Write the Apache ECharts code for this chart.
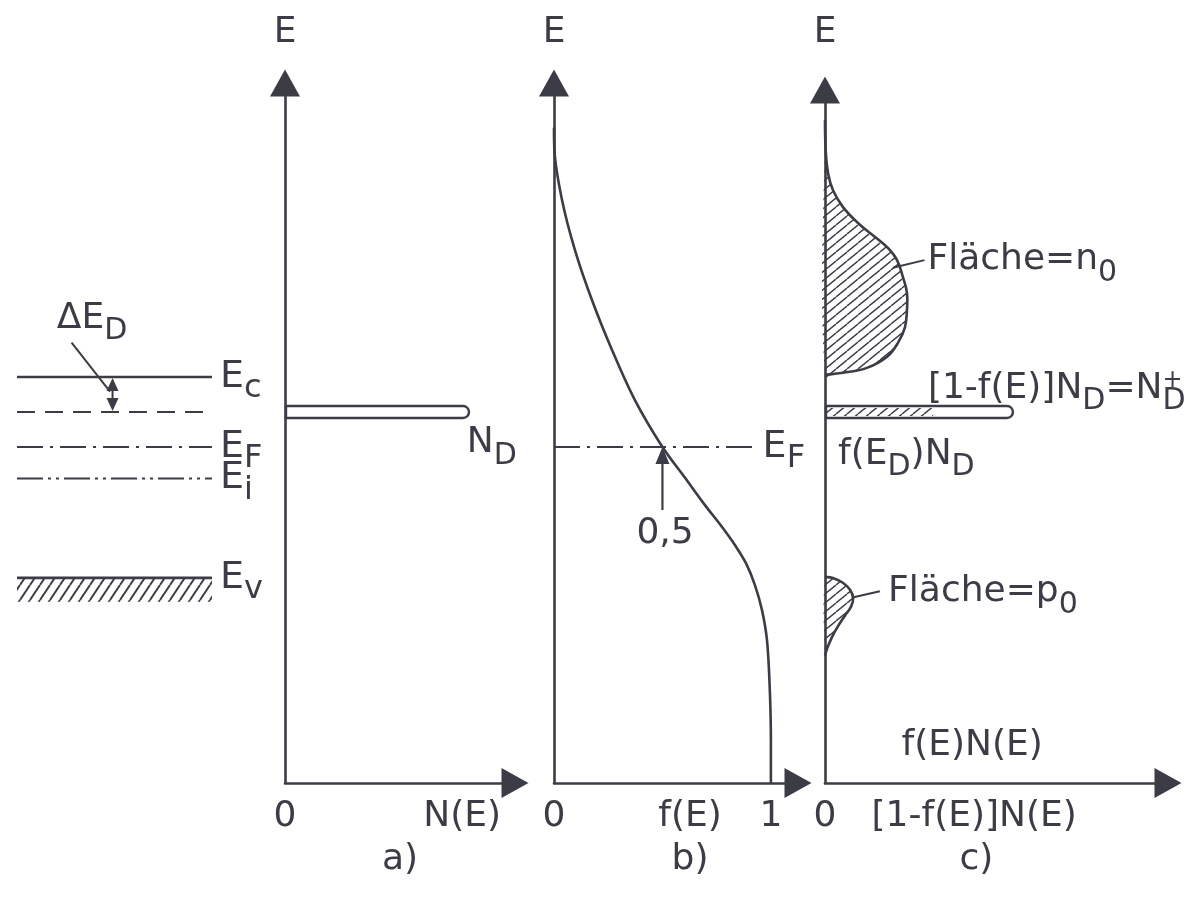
<!DOCTYPE html>
<html>
<head>
<meta charset="utf-8">
<script src="https://cdn.jsdelivr.net/npm/echarts@6/dist/echarts.min.js"></script>
<style>
  html, body { margin: 0; padding: 0; background: #ffffff; }
  #chart { width: 1194px; height: 900px; }
</style>
</head>
<body>
<div id="chart"></div>
<script>
// ---------------------------------------------------------------
// Data (arbitrary energy units, 0 at the foot of every E axis)
// ---------------------------------------------------------------
const E_C = 58;     // conduction band edge
const E_D = 53;     // donor level
const E_F = 48;     // Fermi level
const E_I = 43.5;   // intrinsic level
const E_V = 29.3;   // valence band edge

// a) donor density of states
const donorDensity = 0.8;

// b) Fermi-Dirac occupation probability f(E)
const fermiF = [0, 0.002, 0.037, 0.097, 0.175, 0.267, 0.373, 0.5, 0.604, 0.696, 0.774, 0.834, 0.885, 0.926, 0.959, 0.982, 0.995, 1, 1];
const fermiE = [93.6, 90.4, 83.3, 76.1, 69, 61.9, 54.7, 48, 43.6, 39.7, 36.6, 34, 31.4, 28.3, 24.7, 20.4, 13.3, 6.1, 0];
const halfOccupation = 0.5;

// c) occupied states in the conduction band, f(E)N(E)
const n0Values = [0, 0.02, 0.09, 0.23, 0.52, 0.96, 1.46, 1.84, 2.1, 2.27, 2.39, 2.39, 2.33, 2.13, 1.81, 1.22, 0.52, 0];
const n0Energy = [94.7, 90.4, 87.1, 84.7, 82.3, 80, 78, 76.4, 74.7, 72.3, 70, 67.6, 65.1, 62.9, 60.9, 59.3, 58.6, 58.3];
// c) empty states in the valence band, [1-f(E)]N(E)
const p0Values = [0, 0.23, 0.52, 0.73, 0.82, 0.76, 0.58, 0.38, 0.2, 0.07, 0];
const p0Energy = [29.4, 29.3, 28.6, 27.6, 26.4, 25.2, 23.9, 22.4, 20.8, 19.3, 18.2];
// c) donor states: total and still occupied part
const donorTotalC = 5.48;
const donorOccupiedC = 3.15;

// axis label values and their texts
const ticksA = [0, 0.77];
const textsA = ['0', 'N(E)'];
const ticksB = [0, 0.627, 1];
const textsB = ['0', 'f(E)', '1'];
const ticksC = [0, 4.35];
const textsC = ['0', '[1-f(E)]N(E)'];
const panelNames = ['a)', 'b)', 'c)'];

// ---------------------------------------------------------------
// Styling helpers
// ---------------------------------------------------------------
const INK = '#3c3c46';
const FONT = '"DejaVu Sans", "Liberation Sans", sans-serif';

function hatchPattern(w, h, lw) {
  const c = document.createElement('canvas');
  c.width = w; c.height = h;
  const g = c.getContext('2d');
  g.strokeStyle = INK; g.lineWidth = lw;
  g.beginPath();
  for (let k = -1; k <= 1; k++) { g.moveTo(k * w, h); g.lineTo((k + 1) * w, 0); }
  g.stroke();
  return { image: c, repeat: 'repeat' };
}
const hatchFine = hatchPattern(11, 9, 1.4);
const hatchSteep = hatchPattern(10, 15, 2);

// rich text for labels (ECharts label style)
const levelRich = {
  m: { fontSize: 38, fontFamily: FONT, color: INK, align: 'left' },
  s: { fontSize: 32, fontFamily: FONT, color: INK, align: 'left', padding: [24, 0, 0, 0] }
};
// rich text for free notes (zrender text style)
const noteRich = {
  m: { fontSize: 36, fontFamily: FONT, fill: INK, align: 'left' },
  s: { fontSize: 30, fontFamily: FONT, fill: INK, align: 'left', padding: [26, 0, 0, 0] },
  p: { fontSize: 24, fontFamily: FONT, fill: INK, align: 'left', width: 0, padding: [0, 0, 14, 0] }
};

const axisLine = {
  show: true, onZero: false,
  symbol: ['none', 'triangle'], symbolSize: [30, 27],
  lineStyle: { color: INK, width: 2.6 }
};

function energyAxis(gridIndex, max, show, gap) {
  return {
    type: 'value', gridIndex, min: 0, max, show,
    axisLine, axisTick: { show: false }, axisLabel: { show: false }, splitLine: { show: false },
    name: 'E', nameLocation: 'end', nameGap: gap,
    nameTextStyle: { fontSize: 36, fontFamily: FONT, color: INK }
  };
}

function nearestText(ticks, texts, v) {
  let best = 0;
  ticks.forEach((t, i) => { if (Math.abs(t - v) < Math.abs(ticks[best] - v)) best = i; });
  return texts[best];
}

function quantityAxis(gridIndex, max, ticks, texts, name, namePad) {
  return {
    type: 'value', gridIndex, min: 0, max,
    axisLine, axisTick: { show: false }, splitLine: { show: false },
    axisLabel: {
      show: true, customValues: ticks, formatter: v => nearestText(ticks, texts, v),
      fontSize: 36, fontFamily: FONT, color: INK, margin: 16
    },
    name, nameLocation: 'middle', nameGap: 59,
    nameTextStyle: { fontSize: 36, fontFamily: FONT, color: INK, padding: namePad }
  };
}

function levelSeries(gridIndex, energy, dash, sub, x1, width) {
  return {
    type: 'line', xAxisIndex: gridIndex, yAxisIndex: gridIndex,
    data: [[0, energy], [x1, energy]],
    symbol: 'none', clip: false, silent: true, z: 4,
    lineStyle: { color: INK, width: width || 2.4, type: dash },
    endLabel: sub
      ? { show: true, formatter: '{m|E}{s|' + sub + '}', distance: 8, color: INK, rich: levelRich }
      : { show: false }
  };
}

function customLayer(gridIndex, draw, z) {
  return {
    type: 'custom', coordinateSystem: 'cartesian2d',
    xAxisIndex: gridIndex, yAxisIndex: gridIndex,
    data: [[0, 0]], clip: false, silent: true, z: z || 3,
    renderItem: (params, api) => ({ type: 'group', children: draw(api) })
  };
}

function note(api, x, y, text, align) {
  const p = api.coord([x, y]);
  return {
    type: 'text', x: p[0], y: p[1],
    style: { text, rich: noteRich, fill: INK, fontSize: 36, fontFamily: FONT, align: align || 'left', verticalAlign: 'middle' }
  };
}

function seg(api, a, b, w) {
  const p = api.coord(a), q = api.coord(b);
  return { type: 'line', shape: { x1: p[0], y1: p[1], x2: q[0], y2: q[1] }, style: { stroke: INK, lineWidth: w || 2 } };
}

function blob(api, xs, ys) {
  const pts = xs.map((v, i) => api.coord([v, ys[i]]));
  return [
    { type: 'polygon', shape: { points: pts, smooth: 0.4 }, style: { fill: hatchFine } },
    { type: 'polyline', shape: { points: pts, smooth: 0.4 }, style: { stroke: INK, lineWidth: 2.6, fill: null } }
  ];
}

// ---------------------------------------------------------------
// Chart
// ---------------------------------------------------------------
const chart = echarts.init(document.getElementById('chart'), null, { renderer: 'canvas' });

const option = {
  animation: false,
  backgroundColor: '#ffffff',
  grid: [
    { left: 17, top: 83, width: 195, height: 700 },   // band diagram
    { left: 285, top: 83, width: 230, height: 700 },  // a)
    { left: 554, top: 83, width: 244, height: 700 },  // b)
    { left: 825, top: 90, width: 343, height: 693 }   // c)
  ],
  xAxis: [
    { type: 'value', gridIndex: 0, min: 0, max: 1, show: false },
    quantityAxis(1, 1, ticksA, textsA, panelNames[0], [0, 0, 0, 0]),
    quantityAxis(2, 1.125, ticksB, textsB, panelNames[1], [0, 0, 0, 28]),
    quantityAxis(3, 10, ticksC, textsC, panelNames[2], [0, 40, 0, 0])
  ],
  yAxis: [
    energyAxis(0, 100, false, 30),
    energyAxis(1, 100, true, 32),
    energyAxis(2, 100, true, 32),
    energyAxis(3, 99, true, 39)
  ],
  series: [
    // band diagram: energy levels
    levelSeries(0, E_C, 'solid', 'c', 1, 2.6),
    levelSeries(0, E_D, [18, 10], null, 1, 2.2),
    levelSeries(0, E_F, [26, 7, 3, 7], 'F', 1, 2.2),
    levelSeries(0, E_I, [26, 5, 3, 5, 3, 5], 'i', 1, 2.2),
    levelSeries(0, E_V, 'solid', 'v', 1, 2.6),
    // valence band hatching
    customLayer(0, api => {
      const a = api.coord([0, E_V]), b = api.coord([1, E_V - 3.4]);
      return [{ type: 'rect', shape: { x: a[0], y: a[1] + 1, width: b[0] - a[0], height: b[1] - a[1] - 1 }, style: { fill: hatchSteep } }];
    }),
    // donor ionisation energy ΔE_D
    customLayer(0, api => {
      const top = api.coord([0.49, E_C]), bot = api.coord([0.49, E_D]);
      return [
        note(api, 0.385, 66.4, '{m|ΔE}{s|D}', 'center'),
        seg(api, [0.28, 62.9], [0.477, 55.9], 2),
        { type: 'polygon', shape: { points: [[top[0], top[1] + 1], [top[0] - 6, top[1] + 14], [top[0] + 6, top[1] + 14]] }, style: { fill: INK } },
        { type: 'polygon', shape: { points: [[bot[0], bot[1] - 1], [bot[0] - 6, bot[1] - 14], [bot[0] + 6, bot[1] - 14]] }, style: { fill: INK } },
        { type: 'line', shape: { x1: top[0], y1: top[1] + 12, x2: bot[0], y2: bot[1] - 12 }, style: { stroke: INK, lineWidth: 2 } }
      ];
    }),

    // a) donor states N_D
    customLayer(1, api => {
      const a = api.coord([0, E_D]), b = api.coord([donorDensity, E_D]);
      return [
        { type: 'rect', shape: { x: a[0] + 1, y: a[1] - 6, width: b[0] - a[0] - 1, height: 12, r: [0, 6, 6, 0] }, style: { fill: '#ffffff', stroke: INK, lineWidth: 2.4 } },
        note(api, donorDensity - 0.01, 48.6, '{m|N}{s|D}', 'left')
      ];
    }),

    // b) Fermi function and Fermi level
    {
      type: 'line', xAxisIndex: 2, yAxisIndex: 2,
      data: fermiF.map((f, i) => [f, fermiE[i]]),
      smooth: 0.35, symbol: 'none', clip: false, silent: true, z: 4,
      lineStyle: { color: INK, width: 2.6 }
    },
    levelSeries(2, E_F, [26, 7, 3, 7], 'F', 0.925, 2.2),
    customLayer(2, api => {
      const tip = api.coord([halfOccupation, E_F]), tail = api.coord([halfOccupation, 39]);
      return [
        { type: 'line', shape: { x1: tail[0], y1: tail[1], x2: tip[0], y2: tip[1] + 10 }, style: { stroke: INK, lineWidth: 2.2 } },
        { type: 'polygon', shape: { points: [[tip[0], tip[1]], [tip[0] - 7, tip[1] + 17], [tip[0] + 7, tip[1] + 17]] }, style: { fill: INK } },
        note(api, halfOccupation + 0.012, 35.6, '0,5', 'center')
      ];
    }, 5),

    // c) electrons n0, holes p0, donor states
    customLayer(3, api => blob(api, n0Values, n0Energy)),
    customLayer(3, api => blob(api, p0Values, p0Energy)),
    customLayer(3, api => {
      const a = api.coord([0, E_D]), b = api.coord([donorTotalC, E_D]), h = api.coord([donorOccupiedC, E_D]);
      return [
        { type: 'rect', shape: { x: a[0] + 1, y: a[1] - 6, width: b[0] - a[0] - 1, height: 12, r: [0, 6, 6, 0] }, style: { fill: '#ffffff', stroke: INK, lineWidth: 2.4 } },
        { type: 'rect', shape: { x: a[0] + 2, y: a[1] - 4, width: h[0] - a[0] - 2, height: 8 }, style: { fill: hatchFine } }
      ];
    }),
    customLayer(3, api => [
      seg(api, [1.98, 73.6], [2.9, 74.7], 2),
      note(api, 2.99, 74.7, '{m|Fläche=n}{s|0}'),
      note(api, 3.0, 56.4, '{m|[1-f(E)]N}{s|D}{m|=N}{p|+}{s|D}'),
      note(api, 0.38, 46.9, '{m|f(E}{s|D}{m|)N}{s|D}'),
      seg(api, [0.8, 26.5], [1.6, 27.4], 2),
      note(api, 1.84, 27.3, '{m|Fläche=p}{s|0}'),
      note(api, 4.29, 5.4, 'f(E)N(E)', 'center')
    ], 5)
  ]
};

chart.setOption(option);
</script>
</body>
</html>
